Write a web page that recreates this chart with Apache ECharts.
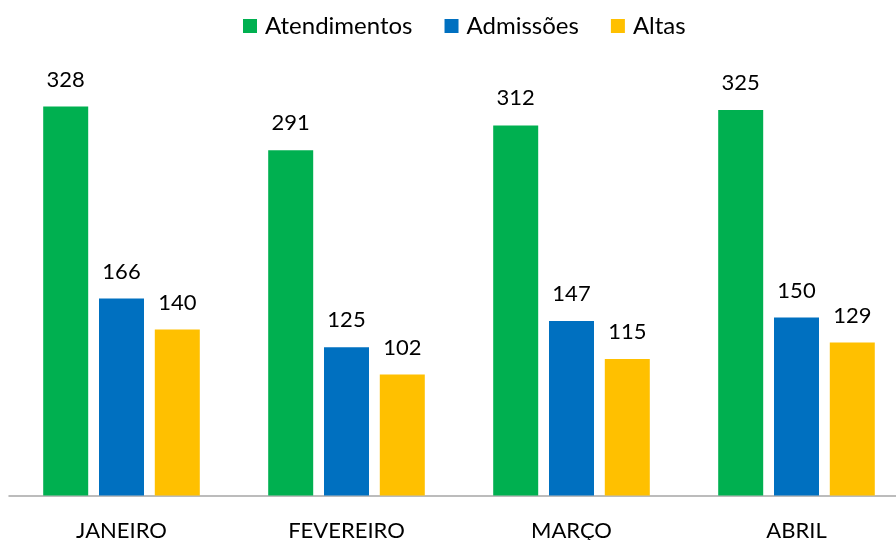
<!DOCTYPE html>
<html>
<head>
<meta charset="utf-8">
<script src="https://cdn.jsdelivr.net/npm/echarts@6/dist/echarts.min.js"></script>
<style>
  html, body { margin: 0; padding: 0; background: #fff; }
  #chart { width: 896px; height: 540px; }
</style>
</head>
<body>
<div id="chart"></div>
<script>
const months = ["JANEIRO", "FEVEREIRO", "MARÇO", "ABRIL"];
const atendimentos = [328, 291, 312, 325];
const admissoes = [166, 125, 147, 150];
const altas = [140, 102, 115, 129];

const font = "Lato, 'Open Sans', sans-serif";
const chart = echarts.init(document.getElementById("chart"));

const label = {
  show: true,
  position: "top",
  distance: 16,
  color: "#000",
  fontSize: 22,
  fontFamily: font,
};

chart.setOption({
  animation: false,
  color: ["#00B050", "#0070C0", "#FFC000"],
  legend: {
    top: 14,
    left: 243,
    padding: 0,
    itemWidth: 14,
    itemHeight: 14,
    itemGap: 32,
    icon: "rect",
    textStyle: { fontSize: 24, fontFamily: font, color: "#000", padding: [0, 0, 0, 3] },
  },
  grid: { left: 9, top: 21, right: -13, bottom: 44.5, outerBoundsMode: "none" },
  xAxis: {
    type: "category",
    data: months,
    axisLine: { lineStyle: { color: "#A6A6A6", width: 1.5 } },
    axisTick: { show: false },
    axisLabel: { margin: 24, fontSize: 22, lineHeight: 22, fontFamily: font, color: "#000" },
  },
  yAxis: {
    type: "value",
    min: 0,
    max: 400,
    show: false,
    splitLine: { show: false },
  },
  series: [
    { name: "Atendimentos", type: "bar", data: atendimentos, barWidth: 45, barGap: "24%", label },
    { name: "Admissões", type: "bar", data: admissoes, barWidth: 45, label },
    { name: "Altas", type: "bar", data: altas, barWidth: 45, label },
  ],
});
</script>
</body>
</html>
